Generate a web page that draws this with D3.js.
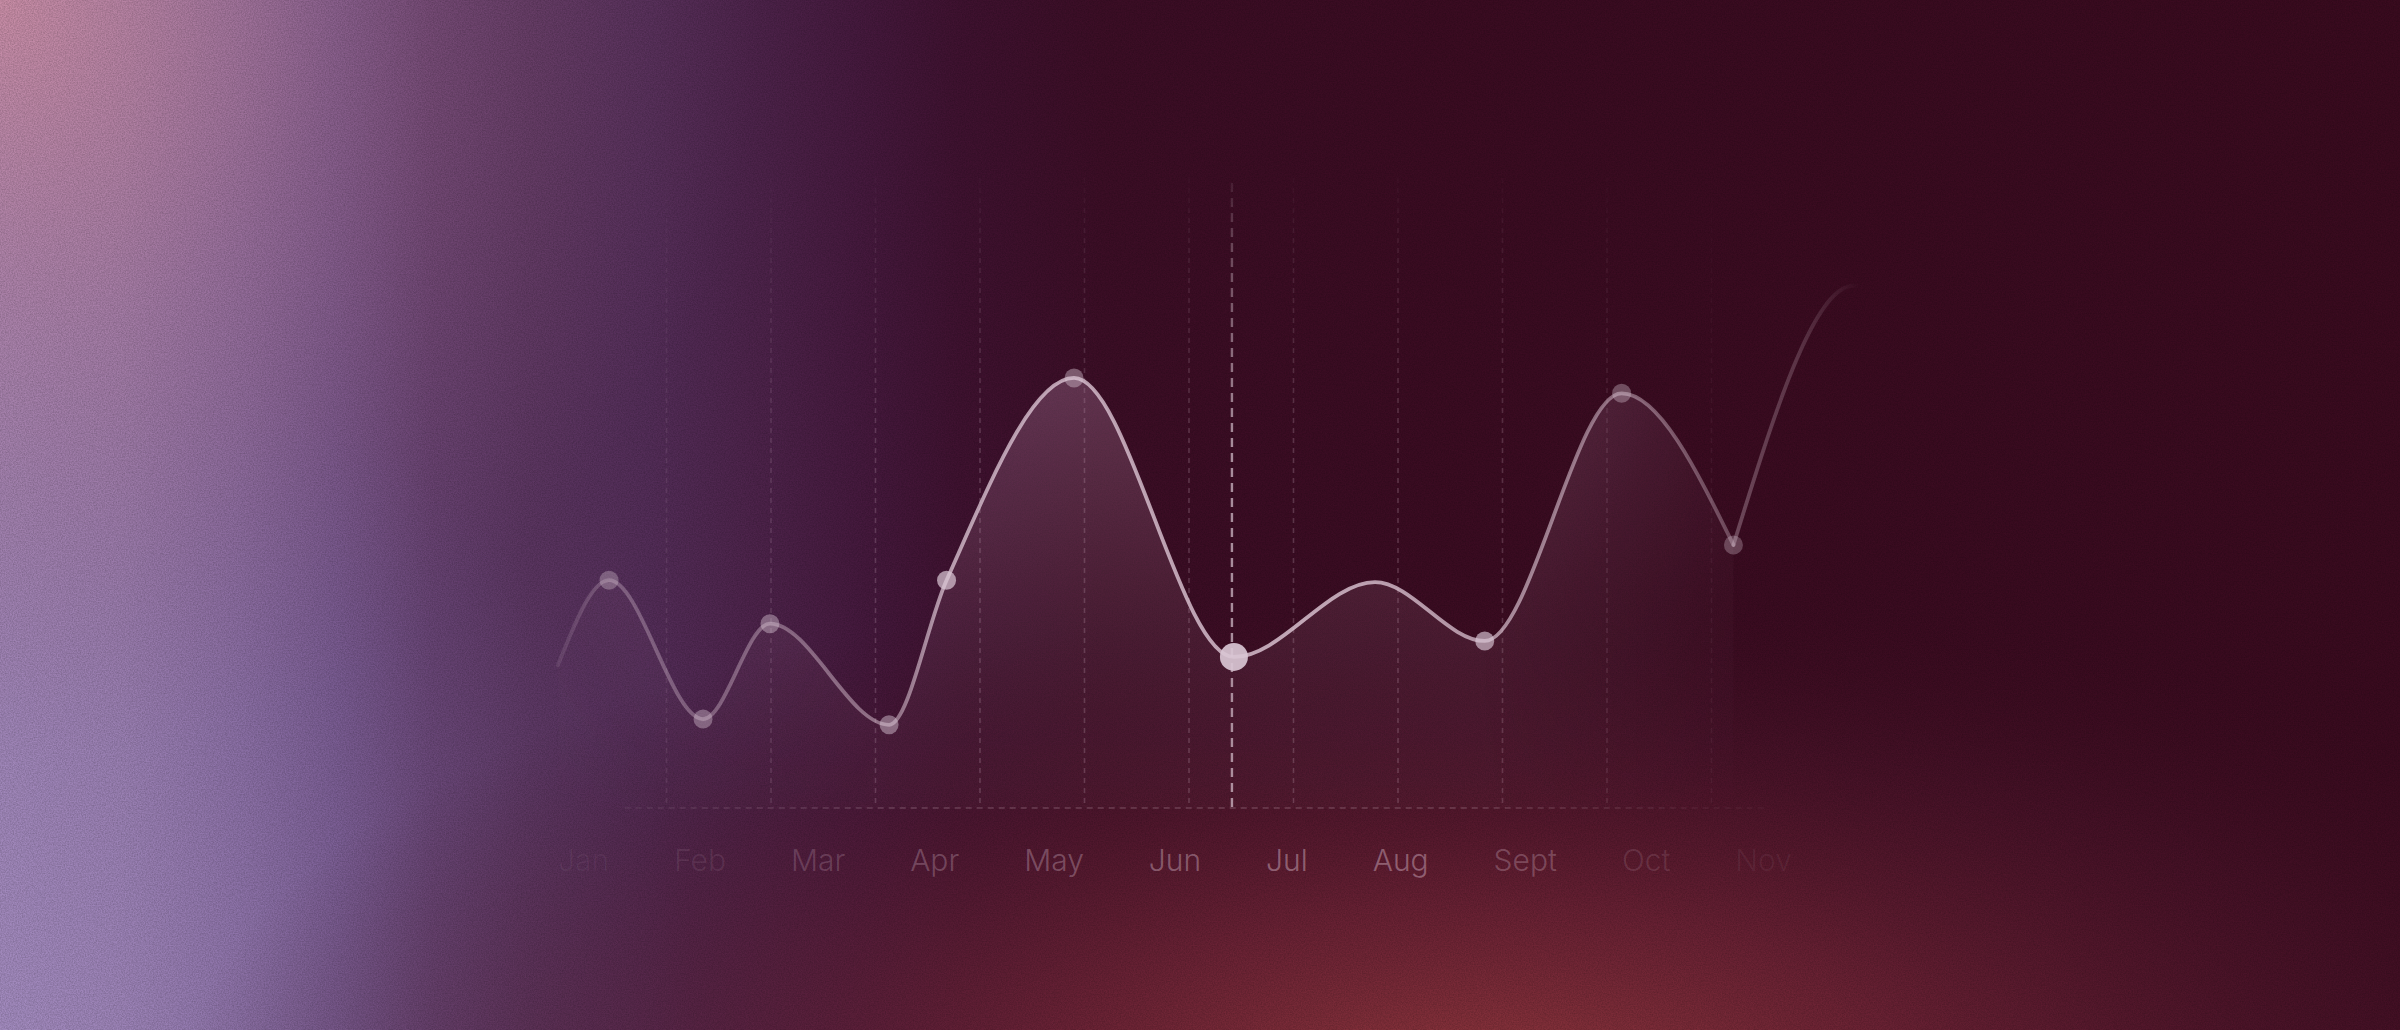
<!DOCTYPE html>
<html>
<head>
<meta charset="utf-8">
<script src="https://cdn.jsdelivr.net/npm/d3@7/dist/d3.min.js"></script>
<style>
  html, body { margin: 0; padding: 0; background: #3a0c1f; overflow: hidden; }
  svg { display: block; }
  text { font-family: Inter, "Noto Sans", sans-serif; }
</style>
</head>
<body>
<svg id="chart" width="2400" height="1030"></svg>
<script>
// ---------- data ----------
const months = ["Jan", "Feb", "Mar", "Apr", "May", "Jun", "Jul", "Aug", "Sept", "Oct", "Nov"];
// position of each sample along the timeline (in grid steps) and its value
const seriesT = [-0.04, 0.45, 1.35, 1.99, 3.13, 3.68, 4.90, 6.43, 7.78, 8.83, 10.14, 11.21, 12.36, 12.9];
const seriesV = [22.3, 35.6, 13.9, 28.8, 13.0, 35.6, 67.2, 23.6, 35.3, 26.1, 64.8, 41.1, 81.6, 79.0];
const projectionFrom = 11;          // the curve after this sample is a faded projection
const markedPoints = [1, 2, 3, 4, 5, 6, 7, 9, 10, 11];
const highlightPoint = 7;
const gridSteps = [1, 2, 3, 4, 5, 6, 7, 8, 9, 10, 11];

// ---------- setup ----------
const W = 2400, H = 1030;
const svg = d3.select("#chart");
const defs = svg.append("defs");

const x = d3.scaleLinear().domain([0, 12]).range([562, 562 + 12 * 104.5]);
const y = d3.scaleLinear().domain([0, 100]).range([808, 168]);
const baseY = y(0);

function linGrad(id, attrs, stops) {
  const g = defs.append("linearGradient").attr("id", id);
  Object.entries(attrs).forEach(([k, v]) => g.attr(k, v));
  stops.forEach(s => g.append("stop").attr("offset", s[0]).attr("stop-color", s[1]).attr("stop-opacity", s[2] == null ? 1 : s[2]));
  return g;
}
function radGrad(id, attrs, stops) {
  const g = defs.append("radialGradient").attr("id", id);
  Object.entries(attrs).forEach(([k, v]) => g.attr(k, v));
  stops.forEach(s => g.append("stop").attr("offset", s[0]).attr("stop-color", s[1]).attr("stop-opacity", s[2] == null ? 1 : s[2]));
  return g;
}

// ---------- background ----------
linGrad("bgH", {x1: 0, y1: 0, x2: W, y2: 0, gradientUnits: "userSpaceOnUse"}, [
  [0, "#a287b6"], [0.05, "#9a7eae"], [0.10, "#876a9e"], [0.14, "#74558a"],
  [0.18, "#633f6e"], [0.22, "#5a3560"], [0.27, "#532d58"], [0.32, "#4c2249"],
  [0.36, "#45193d"], [0.40, "#3f1230"], [0.46, "#3c0e26"], [0.6, "#3b0c22"], [1, "#3a0b1f"]
]);
radGrad("bgPink", {cx: 0, cy: 0, r: 760, gradientUnits: "userSpaceOnUse"}, [
  [0, "#d9909f", 0.7], [0.45, "#b8758f", 0.3], [1, "#8a5478", 0]
]);
radGrad("bgLav", {cx: 0, cy: 1030, r: 700, gradientUnits: "userSpaceOnUse"}, [
  [0, "#a28ec6", 0.5], [1, "#8a74b0", 0]
]);
radGrad("bgRed", {cx: 1480, cy: 1090, r: 1300, gradientUnits: "userSpaceOnUse",
  gradientTransform: "translate(1480 1090) scale(1 0.4) translate(-1480 -1090)"}, [
  [0, "#93393d", 1], [0.35, "#79293a", 0.72], [0.7, "#561a30", 0.38], [1, "#3a0c1f", 0]
]);

svg.append("rect").attr("width", W).attr("height", H).attr("fill", "url(#bgH)");
svg.append("rect").attr("width", W).attr("height", H).attr("fill", "url(#bgLav)");
svg.append("rect").attr("width", W).attr("height", H).attr("fill", "url(#bgPink)");
svg.append("rect").attr("width", W).attr("height", H).attr("fill", "url(#bgRed)");

// grain
const noise = defs.append("filter").attr("id", "grain").attr("x", 0).attr("y", 0).attr("width", "100%").attr("height", "100%");
noise.append("feTurbulence").attr("type", "fractalNoise").attr("baseFrequency", 0.75).attr("numOctaves", 2).attr("seed", 3).attr("result", "n");
noise.append("feColorMatrix").attr("type", "matrix")
  .attr("values", "0 0 0 0 0  0 0 0 0 0  0 0 0 0 0  0 0 0 -1.4 1.0").attr("in", "n");
svg.append("rect").attr("width", W).attr("height", H).attr("filter", "url(#grain)").attr("opacity", 0.22);

// ---------- masks / gradients for chart ----------
linGrad("fadeTop", {x1: 0, y1: 150, x2: 0, y2: 808, gradientUnits: "userSpaceOnUse"}, [
  [0, "#fff", 0], [0.15, "#fff", 0.45], [0.45, "#fff", 1], [1, "#fff", 1]
]);
linGrad("fadeSide", {x1: 480, y1: 0, x2: 1900, y2: 0, gradientUnits: "userSpaceOnUse"}, [
  [0, "#fff", 0], [0.12, "#fff", 0.45], [0.3, "#fff", 1], [0.7, "#fff", 1], [0.86, "#fff", 0.3], [1, "#fff", 0]
]);
const gridMask = defs.append("mask").attr("id", "gridMask").attr("maskUnits", "userSpaceOnUse")
  .attr("x", 0).attr("y", 0).attr("width", W).attr("height", H);
gridMask.append("rect").attr("width", W).attr("height", H).attr("fill", "url(#fadeTop)");

const sideMask = defs.append("mask").attr("id", "sideMask").attr("maskUnits", "userSpaceOnUse")
  .attr("x", 0).attr("y", 0).attr("width", W).attr("height", H);
sideMask.append("rect").attr("width", W).attr("height", H).attr("fill", "url(#fadeSide)");

// line stroke gradient
const lineStops = [[555, 0.1], [620, 0.3], [780, 0.38], [900, 0.5], [950, 0.72], [1100, 0.74],
                   [1300, 0.78], [1480, 0.68], [1620, 0.45], [1740, 0.3], [1800, 0.2], [1860, 0.0]];
linGrad("lineGrad", {x1: 555, y1: 0, x2: 1860, y2: 0, gradientUnits: "userSpaceOnUse"},
  lineStops.map(s => [(s[0] - 555) / (1860 - 555), "#e6d0de", s[1]]));

// area fill gradient
linGrad("areaV", {x1: 0, y1: 370, x2: 0, y2: 808, gradientUnits: "userSpaceOnUse"}, [
  [0, "#cf9fc4", 0.27], [0.5, "#b9889f", 0.15], [1, "#a07890", 0.03]
]);

// ---------- grid ----------
const grid = svg.append("g").attr("mask", "url(#gridMask)");
const gridG = grid.append("g").attr("mask", "url(#sideMask)");
gridG.selectAll("line.v").data(gridSteps).join("line")
  .attr("class", "v")
  .attr("x1", d => x(d)).attr("x2", d => x(d))
  .attr("y1", y(100) + 10).attr("y2", baseY)
  .attr("stroke", "#f0d6e4").attr("stroke-opacity", 0.2)
  .attr("stroke-width", 1.6).attr("stroke-dasharray", "5 5");

// baseline
svg.append("g").attr("mask", "url(#sideMask)")
  .append("line")
  .attr("x1", x(0.6)).attr("x2", x(11.5))
  .attr("y1", baseY).attr("y2", baseY)
  .attr("stroke", "#f0d6e4").attr("stroke-opacity", 0.22)
  .attr("stroke-width", 1.6).attr("stroke-dasharray", "6 5");

// highlight line
const hx = x(seriesT[highlightPoint]);
svg.append("g").attr("mask", "url(#gridMask)")
  .append("line")
  .attr("x1", hx - 2).attr("x2", hx - 2)
  .attr("y1", y(100) + 15).attr("y2", baseY)
  .attr("stroke", "#f4e4ee").attr("stroke-opacity", 0.6)
  .attr("stroke-width", 2.4).attr("stroke-dasharray", "9 6");

// ---------- series ----------
const pts = seriesT.map((t, i) => ({t, v: seriesV[i], i}));
const mainPts = pts.slice(0, projectionFrom + 1);
const projPts = pts.slice(projectionFrom);
const curve = d3.curveMonotoneX;

const area = d3.area().x(d => x(d.t)).y0(baseY).y1(d => y(d.v)).curve(curve);
const line = d3.line().x(d => x(d.t)).y(d => y(d.v)).curve(curve);

svg.append("g").attr("mask", "url(#sideMask)")
  .append("path").datum(mainPts).attr("d", area).attr("fill", "url(#areaV)");

svg.append("path").datum(mainPts).attr("d", line)
  .attr("fill", "none").attr("stroke", "url(#lineGrad)")
  .attr("stroke-width", 3.8).attr("stroke-linecap", "round");
svg.append("path").datum(projPts).attr("d", line)
  .attr("fill", "none").attr("stroke", "url(#lineGrad)")
  .attr("stroke-width", 3.8).attr("stroke-linecap", "round");

// markers
const markerOpacity = d3.scaleLinear()
  .domain([550, 700, 900, 947, 1074, 1234, 1485, 1622, 1740])
  .range([0.3, 0.4, 0.48, 0.72, 0.42, 0.92, 0.66, 0.36, 0.3]).clamp(true);
svg.append("g").selectAll("circle").data(markedPoints.map(i => pts[i])).join("circle")
  .attr("cx", d => x(d.t)).attr("cy", d => y(d.v))
  .attr("r", d => d.i === highlightPoint ? 14 : 9.5)
  .attr("fill", "#d9c6d4")
  .attr("fill-opacity", d => markerOpacity(x(d.t)));

// ---------- month labels ----------
const labelOpacity = d3.scaleLinear()
  .domain([560, 700, 820, 940, 1060, 1170, 1280, 1390, 1510, 1640, 1770])
  .range([0.05, 0.1, 0.2, 0.26, 0.3, 0.36, 0.4, 0.38, 0.28, 0.14, 0.07]).clamp(true);
const labels = svg.append("g").attr("class", "x-labels");
const lab = labels.selectAll("text").data(months).join("text")
  .text(d => d)
  .attr("font-size", 30)
  .attr("font-weight", 300)
  .attr("y", 871)
  .attr("fill", "#ecd2e2");
// lay labels out in a row with equal gaps between them
const widths = [];
lab.each(function () { widths.push(this.getComputedTextLength()); });
const rowLeft = 558, rowRight = 1792;
const gap = (rowRight - rowLeft - d3.sum(widths)) / (months.length - 1);
let cursor = rowLeft;
lab.each(function (d, i) {
  d3.select(this).attr("x", cursor);
  const c = cursor + widths[i] / 2;
  d3.select(this).attr("fill-opacity", labelOpacity(c));
  cursor += widths[i] + gap;
});
</script>
</body>
</html>
